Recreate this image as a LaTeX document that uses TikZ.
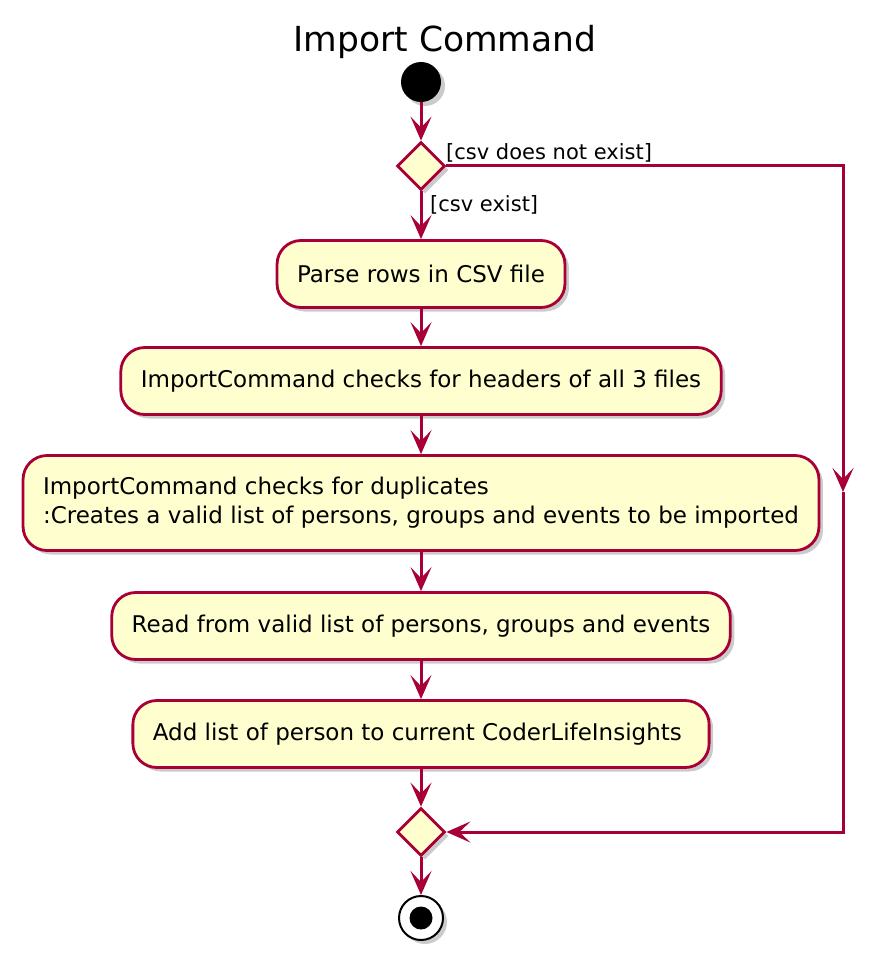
\documentclass[tikz,border=0pt]{standalone}
\usepackage{fontspec}
\setmainfont{DejaVu Sans}
\usepackage{tikz}
\usepackage{xcolor}
\usetikzlibrary{arrows.meta,shapes.geometric,shadows}
\definecolor{umlred}{HTML}{A80036}
\definecolor{umlfill}{HTML}{FEFECE}
\newcommand{\actfont}{\fontsize{23}{29}\selectfont}
\newcommand{\guardfont}{\fontsize{21}{25}\selectfont}
\tikzset{
    >={Stealth[length=24pt,width=21pt,inset=11pt]},
    umlshadow/.style={drop shadow={shadow xshift=4pt,shadow yshift=-4pt,fill=black!45,opacity=.45}},
    act/.style={draw=umlred,fill=umlfill,line width=2.8pt,rounded corners=24pt,minimum height=67pt,inner xsep=20pt,align=left,font=\actfont,umlshadow},
    branch/.style={diamond,draw=umlred,fill=umlfill,line width=2.8pt,minimum width=48pt,minimum height=48pt,inner sep=0pt,umlshadow},
    startdot/.style={circle,fill=black,minimum size=40pt,inner sep=0pt,umlshadow},
    stopring/.style={circle,draw=black,fill=white,line width=2pt,minimum size=44pt,inner sep=0pt,umlshadow,
        path picture={\fill[black] (path picture bounding box.center) circle (11.5pt);}},
    flow/.style={draw=umlred,line width=3pt,->},
    guard/.style={font=\guardfont,inner sep=0pt}
}

\begin{document}
\begin{tikzpicture}[x=1pt,y=-1pt]
\useasboundingbox (0,0) rectangle (892,960);
\node[font=\fontsize{34.5}{40}\selectfont] (title) at (445,42) {Import Command};
\node[startdot] (start) at (421,82) {};
\node[branch] (split) at (421,166) {};
\foreach \nm/\y/\h/\txt in {
    parse/274/67/{Parse rows in CSV file},
    headers/381/67/{ImportCommand checks for headers of all 3 files},
    dupes/503/95/{ImportCommand checks for duplicates\\:Creates a valid list of persons, groups and events to be imported},
    readlist/626/67/{Read from valid list of persons, groups and events},
    addlist/734/67/{Add list of person to current CoderLifeInsights}
}{
    \node[act,minimum height=\h pt] (\nm) at (421,\y) {\txt};
}
\node[branch] (merge) at (421,832) {};
\node[stopring] (stop) at (421,918) {};
\coordinate (bend) at (843,492);
\foreach \a/\b in {start/split, split/parse, parse/headers, headers/dupes, dupes/readlist, readlist/addlist, addlist/merge, merge/stop}{
    \draw[flow] (\a) -- (\b);
}
\draw[flow] (split.east) -| (bend);
\draw[flow] (bend) |- (merge.east);
\node[guard,anchor=base west] (nocsv) at (446,160) {[csv does not exist]};
\node[guard,anchor=base west] (yescsv) at (430,211) {[csv exist]};
\end{tikzpicture}
\end{document}
